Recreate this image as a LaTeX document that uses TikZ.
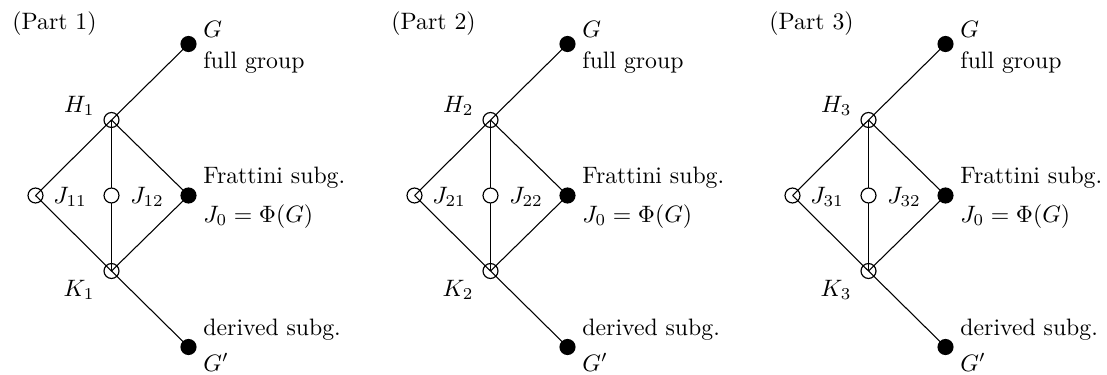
\documentclass[tikz,border=0pt]{standalone}
\usetikzlibrary{backgrounds}
\begin{document}
\begin{tikzpicture}[x=0.42128pt,y=-0.42128pt,
  opencirc/.style={circle,draw,inner sep=0pt,minimum size=6.3pt,line width=0.5pt},
  dotn/.style={circle,fill=black,inner sep=0pt,minimum size=6.8pt},
  conn/.style={line width=0.45pt},
  lbl/.style={inner sep=0pt,anchor=base west},
  lblr/.style={inner sep=0pt,anchor=base east}]
\useasboundingbox (0,0) rectangle (1107,374);
\foreach \i/\ox in {1/0,2/379,3/757}{
  \begin{scope}[shift={(\ox,0)}]
    \node[opencirc] (H\i) at (111.5,120) {};
    \node[opencirc] (K\i) at (111.5,271) {};
    \node[opencirc] (Ja\i) at (35.5,195.5) {};
    \node[opencirc,fill=white] (Jb\i) at (111.5,195.5) {};
    \node[dotn] (G\i) at (188.5,44) {};
    \node[dotn] (F\i) at (188.5,195.5) {};
    \node[dotn] (D\i) at (188.5,347) {};
    \begin{scope}[on background layer]
      \draw[conn] (H\i.center) -- (G\i.center);
      \draw[conn] (H\i.center) -- (Ja\i.center);
      \draw[conn] (H\i.center) -- (F\i.center);
      \draw[conn] (H\i.center) -- (K\i.center);
      \draw[conn] (Ja\i.center) -- (K\i.center);
      \draw[conn] (F\i.center) -- (K\i.center);
      \draw[conn] (K\i.center) -- (D\i.center);
    \end{scope}
    \node[lbl] (Gl\i) at (203,37) {$G$};
    \node[lbl] (Gt\i) at (203,68) {full group};
    \node[lbl] (Ft\i) at (203,183) {Frattini subg.};
    \node[lbl] (Fl\i) at (203,222) {$J_0=\Phi(G)$};
    \node[lbl] (Dt\i) at (203,335) {derived subg.};
    \node[lbl] (Dl\i) at (203,371) {$G'$};
    \node[lblr] (Hl\i) at (95,112) {$H_\i$};
    \node[lblr] (Kl\i) at (95,296) {$K_\i$};
    \node[lbl] (Jal\i) at (53,203) {$J_{\i1}$};
    \node[lbl] (Jbl\i) at (130,203) {$J_{\i2}$};
    \node[lbl] (P\i) at (12,29) {(Part \i)};
  \end{scope}
}
\end{tikzpicture}
\end{document}
